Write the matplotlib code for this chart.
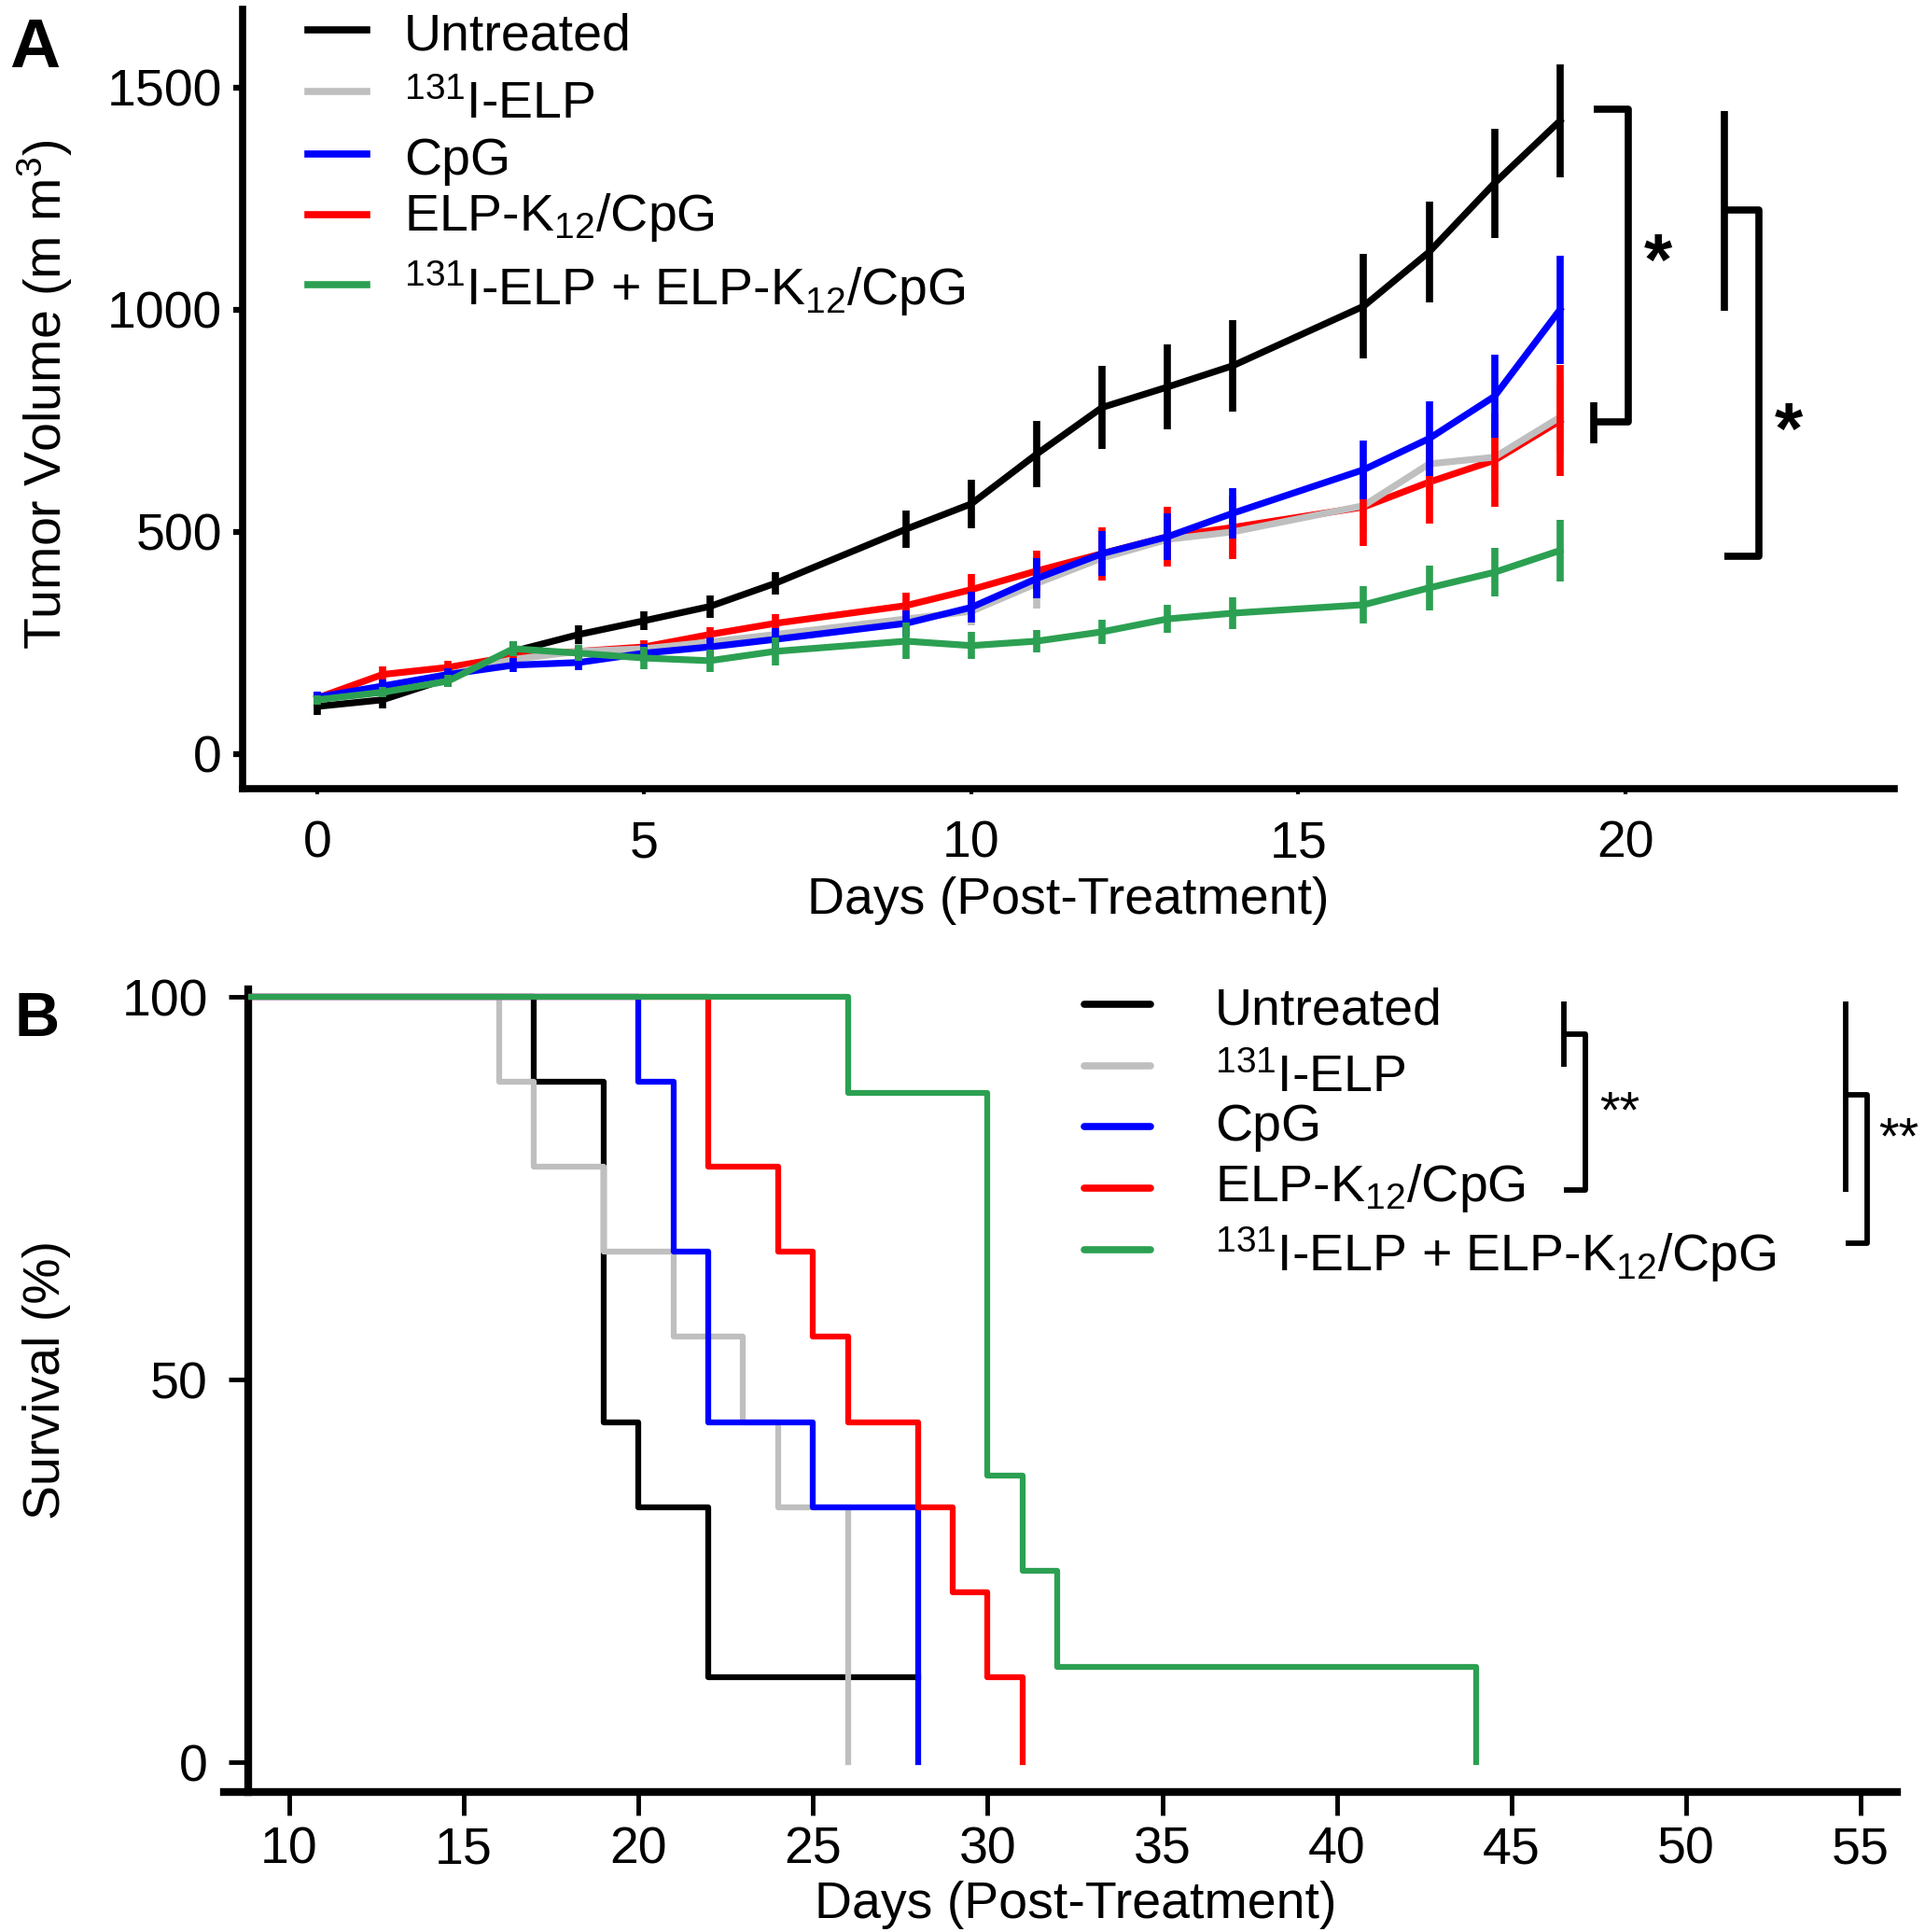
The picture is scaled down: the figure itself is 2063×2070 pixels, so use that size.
import matplotlib
matplotlib.use('Agg')
import matplotlib.pyplot as plt
from matplotlib.patches import Rectangle

plt.rcParams['font.family'] = ['Liberation Sans', 'DejaVu Sans']
plt.rcParams['mathtext.fontset'] = 'custom'
plt.rcParams['mathtext.rm'] = 'Liberation Sans'
plt.rcParams['mathtext.it'] = 'Liberation Sans:italic'
plt.rcParams['mathtext.bf'] = 'Liberation Sans:bold'

## donnees panneau A : volume tumoral
days = [0, 1, 2, 3, 4, 5, 6, 7, 9, 10, 11, 12, 13, 14, 16, 17, 18, 19]
untreated = [107, 122, 170, 231, 269, 300, 332, 384, 506, 563, 675, 780, 826, 874, 1008, 1130, 1285, 1425]
untreated_err = [19, 19, 19, 23, 21, 21, 25, 26, 42, 54, 74, 93, 96, 103, 118, 114, 123, 128]
elp131 = [128, 149, 179, 213, 231, 237, 252, 269, 304, 321, 384, 441, 483, 500, 559, 653, 668, 758]
elp131_err = [12, 14, 15, 16, 16, 18, 20, 22, 28, 32, 56, 50, 55, 55, 62, 70, 75, 80]
cpg = [128, 153, 179, 200, 206, 227, 241, 258, 294, 330, 395, 451, 489, 542, 640, 710, 805, 1000]
cpg_err = [12, 14, 15, 16, 18, 20, 22, 25, 30, 35, 45, 50, 52, 57, 66, 84, 94, 122]
elpk = [126, 179, 195, 220, 231, 241, 269, 294, 334, 370, 412, 451, 489, 510, 556, 612, 661, 750]
elpk_err = [12, 19, 14, 14, 12, 15, 16, 20, 30, 35, 45, 60, 68, 72, 87, 93, 105, 125]
combo = [122, 139, 164, 237, 227, 216, 210, 231, 254, 244, 254, 275, 304, 317, 336, 374, 409, 458]
combo_err = [10, 12, 14, 16, 18, 25, 25, 31, 41, 30, 25, 27, 31, 35, 42, 51, 54, 70]

## donnees panneau B : survie (Kaplan-Meier)
t_untreated = [0, 17, 19, 20, 22, 28]
s_untreated = [100, 88.9, 44.4, 33.3, 11.1, 11.1]
t_elp131 = [0, 16, 17, 19, 21, 23, 24, 26]
s_elp131 = [100, 88.9, 77.8, 66.7, 55.6, 44.4, 33.3, 0]
t_cpg = [0, 20, 21, 22, 25, 28]
s_cpg = [100, 88.9, 66.7, 44.4, 33.3, 0]
t_elpk = [0, 22, 24, 25, 26, 28, 29, 30, 31]
s_elpk = [100, 77.8, 66.7, 55.6, 44.4, 33.3, 22.2, 11.1, 0]
t_combo = [0, 26, 30, 31, 32, 44]
s_combo = [100, 87.5, 37.5, 25, 12.5, 0]

labels = ['Untreated', r'$\mathregular{^{131}}$I-ELP', 'CpG',
          r'ELP-K$\mathregular{_{12}}$/CpG',
          r'$\mathregular{^{131}}$I-ELP + ELP-K$\mathregular{_{12}}$/CpG']
colors = ['black', '#bfbfbf', '#0000ff', '#ff0000', '#2ca052']

W, H = 2063, 2070
fig = plt.figure(figsize=(W / 100, H / 100), dpi=100)

def fx(px):
    return px / W

def fy(py):
    return 1 - py / H

FS = 40

## ---------- panneau A
axA = fig.add_axes([fx(260), fy(845), fx(2030) - fx(260), fy(10) - fy(845)])
series = [(untreated, untreated_err), (elp131, elp131_err), (cpg, cpg_err),
          (elpk, elpk_err), (combo, combo_err)]
zorders = [2, 4, 5, 3, 6]
for (m, e), c, z in zip(series, colors, zorders):
    line, caps, bars = axA.errorbar(days, m, yerr=e, color=c, lw=5.2, elinewidth=5.5,
                                    capsize=0, zorder=z)
    if c == '#ff0000':
        bars[0].set_zorder(4.5)

axA.set_xlim(-1.14, 24.11)
axA.set_ylim(-78, 1676)
axA.set_xticks([0, 5, 10, 15, 20])
axA.set_yticks([0, 500, 1000, 1500])
for s in ['top', 'right']:
    axA.spines[s].set_visible(False)
for s in ['left', 'bottom']:
    axA.spines[s].set_linewidth(5.5)
axA.tick_params(axis='y', length=7, width=4.5, pad=9, labelsize=FS)
axA.tick_params(axis='x', length=4, width=3, pad=20, labelsize=FS)
axA.set_xlabel('Days (Post-Treatment)', fontsize=FS)
axA.xaxis.set_label_coords(0.5, -0.1437)
axA.xaxis.label.set_va('center')
axA.set_ylabel(r'Tumor Volume (m m$\mathregular{^{3}}$)', fontsize=FS)
axA.yaxis.set_label_coords(-0.1198, 0.505)
axA.yaxis.label.set_va('center')

# crochets de significativite
kw = dict(color='black', lw=5.5, clip_on=False, solid_capstyle='butt')
axA.plot([19.51, 20.04, 20.04, 19.51], [1452, 1452, 748, 748], **kw)
axA.plot([19.51, 19.51], [700, 792], **kw)
axA.plot([21.51, 21.51], [998, 1447], **kw)
axA.plot([21.51, 22.04, 22.04, 21.51], [1225, 1225, 445, 445], **kw)
axA.text(20.5, 1100, '*', fontsize=56, fontweight='bold', ha='center', va='center')
axA.text(22.5, 720, '*', fontsize=56, fontweight='bold', ha='center', va='center')

# legende A
baseA = [53, 127, 187, 247, 327]
handA = [32, 98, 165, 230, 305]
for lab, c, b, h in zip(labels, colors, baseA, handA):
    fig.add_artist(plt.Line2D([fx(330), fx(393)], [fy(h), fy(h)], color=c, lw=5.5,
                              transform=fig.transFigure))
    fig.text(fx(433), fy(b), lab, fontsize=FS, ha='left', va='baseline')

fig.text(fx(10), fy(72), 'A', fontsize=54, fontweight='bold', ha='left', va='baseline')

## ---------- panneau B
axB = fig.add_axes([fx(240), fy(1920), fx(2033) - fx(240), fy(1060) - fy(1920)])
spine_x = 8.82
clip = Rectangle((spine_x, -20), 200, 200, transform=axB.transData)
curves = [(t_untreated, s_untreated), (t_elp131, s_elp131), (t_cpg, s_cpg),
          (t_elpk, s_elpk), (t_combo, s_combo)]
for (t, s), c, z in zip(curves, colors, [2, 3, 4, 5, 6]):
    ln, = axB.step(t, s, where='post', color=c, lw=4.5, zorder=z)
    ln.set_clip_path(clip)

axB.set_xlim(8.13, 56.04)
axB.set_ylim(-3.9, 101)
axB.set_xticks(range(10, 56, 5))
axB.set_yticks([0, 50, 100])
axB.spines['left'].set_position(('data', spine_x))
for s in ['top', 'right']:
    axB.spines[s].set_visible(False)
for s in ['left', 'bottom']:
    axB.spines[s].set_linewidth(6)
axB.tick_params(axis='x', length=18, width=3.5, pad=8, labelsize=FS)
axB.tick_params(axis='y', length=15, width=3.5, pad=16, labelsize=FS)
axB.set_xlabel('Days (Post-Treatment)', fontsize=FS)
axB.xaxis.set_label_coords(0.509, -0.1407)
axB.xaxis.label.set_va('center')
axB.set_ylabel('Survival (%)', fontsize=FS)
axB.yaxis.set_label_coords(-0.106, 0.514)
axB.yaxis.label.set_va('center')

kwb = dict(color='black', lw=4.2, clip_on=False, solid_capstyle='butt')
axB.plot([46.50, 46.50], [90.9, 99.4], **kwb)
axB.plot([46.50, 47.12, 47.12, 46.50], [95.2, 95.2, 74.8, 74.8], **kwb)
axB.plot([54.58, 54.58], [74.5, 99.4], **kwb)
axB.plot([54.58, 55.19, 55.19, 54.58], [87.2, 87.2, 67.8, 67.8], **kwb)
axB.text(47.52, 83.0, '**', fontsize=FS, ha='left', va='baseline')
axB.text(55.5, 79.6, '**', fontsize=FS, ha='left', va='baseline', clip_on=False)

baseB = [1097, 1170, 1222, 1287, 1362]
handB = [1076, 1142, 1207, 1273, 1339]
for lab, c, b, h in zip(labels, colors, baseB, handB):
    fig.add_artist(plt.Line2D([fx(1162), fx(1233)], [fy(h), fy(h)], color=c, lw=5.5,
                              solid_capstyle='round', transform=fig.transFigure))
    fig.text(fx(1302), fy(b), lab, fontsize=FS, ha='left', va='baseline')

fig.text(fx(15), fy(1110), 'B', fontsize=48, fontweight='bold', ha='left', va='baseline')

fig.savefig('out.png', dpi=100)
